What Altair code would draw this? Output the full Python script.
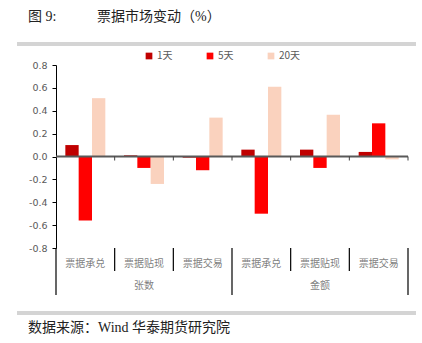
import altair as alt
import pandas as pd

groups = ["张数", "张数", "张数", "金额", "金额", "金额"]
types = ["票据承兑", "票据贴现", "票据交易", "票据承兑", "票据贴现", "票据交易"]
series = ["1天", "5天", "20天"]
v1 = [0.10, 0.01, -0.01, 0.06, 0.06, 0.04]
v5 = [-0.56, -0.10, -0.12, -0.50, -0.10, 0.29]
v20 = [0.51, -0.24, 0.34, 0.61, 0.365, -0.025]
ytick_values = [-0.8, -0.6, -0.4, -0.2, 0, 0.2, 0.4, 0.6, 0.8]
colors = ["#C00000", "#FF0000", "#FAD2BE"]

keys = [f"{g}-{t}" for g, t in zip(groups, types)]
rows = []
for s, vals in zip(series, [v1, v5, v20]):
    for k, v in zip(keys, vals):
        rows.append({"key": k, "series": s, "value": v})
df = pd.DataFrame(rows)
cats = pd.DataFrame({"key": keys, "type": types, "group": groups})
cats["z"] = 0.0
cats["zt"] = -0.035

W, H = 352, 183
FONT = "Noto Sans CJK SC"
SERIF = "Liberation Serif, Noto Sans CJK SC"
xsc = alt.Scale(domain=keys, paddingInner=0, paddingOuter=0)
ysc = alt.Scale(domain=[-0.8, 0.8])
yaxis = alt.Axis(values=ytick_values, format=".1f", grid=False, domainColor="#000000",
                 tickColor="#000000", tickSize=4, labelColor="#595959",
                 labelFont="DejaVu Sans", labelFontSize=9.5, labelPadding=5,
                 labelOverlap=False, title=None,
                 labelExpr="replace(datum.label, '\u2212', '-')")

bars = alt.Chart(df).mark_bar().encode(
    x=alt.X("key:N", sort=keys, scale=xsc, axis=None),
    xOffset=alt.XOffset("series:N", sort=series,
                        scale=alt.Scale(domain=series, paddingInner=0, paddingOuter=0.7)),
    y=alt.Y("value:Q", scale=ysc, axis=yaxis),
    color=alt.Color("series:N", sort=series,
                    scale=alt.Scale(domain=series, range=colors),
                    legend=alt.Legend(title=None, orient="none", direction="horizontal",
                                      legendX=88, legendY=-14, symbolType="square",
                                      symbolSize=45, symbolStrokeWidth=0,
                                      labelFont=FONT, labelFontSize=10,
                                      labelColor="#595959", gridAlign="all",
                                      columnPadding=26, labelOffset=3)),
)

zero = alt.Chart(cats.iloc[:1]).mark_rule(color="#595959", strokeWidth=2).encode(
    y=alt.Y("z:Q", scale=ysc, axis=yaxis), x=alt.value(0), x2=alt.value(W))

tick_mid = alt.Chart(cats.iloc[1:]).mark_rule(color="#404040", strokeWidth=1).encode(
    x=alt.X("key:N", sort=keys, scale=xsc, bandPosition=0, axis=None),
    y=alt.Y("z:Q", scale=ysc, axis=yaxis), y2="zt:Q")
tick_end = alt.Chart(cats.iloc[-1:]).mark_rule(color="#404040", strokeWidth=1).encode(
    x=alt.X("key:N", sort=keys, scale=xsc, bandPosition=1, axis=None),
    y=alt.Y("z:Q", scale=ysc, axis=yaxis), y2="zt:Q")

inner = cats[cats["type"] != "票据承兑"]
sep_inner = alt.Chart(inner).mark_rule(color="#000000", strokeWidth=1.2).encode(
    x=alt.X("key:N", sort=keys, scale=xsc, bandPosition=0, axis=None),
    y=alt.value(H), y2=alt.value(H + 23))
outer = cats[cats["type"] == "票据承兑"]
sep_outer = alt.Chart(outer).mark_rule(color="#000000", strokeWidth=1.2).encode(
    x=alt.X("key:N", sort=keys, scale=xsc, bandPosition=0, axis=None),
    y=alt.value(H), y2=alt.value(H + 47))
sep_end = alt.Chart(cats.iloc[-1:]).mark_rule(color="#000000", strokeWidth=1.2).encode(
    x=alt.X("key:N", sort=keys, scale=xsc, bandPosition=1, axis=None),
    y=alt.value(H), y2=alt.value(H + 47))

cat_labels = alt.Chart(cats).mark_text(font=FONT, fontSize=10, color="#7f7f7f",
                                       baseline="middle").encode(
    x=alt.X("key:N", sort=keys, scale=xsc, axis=None),
    y=alt.value(H + 16), text="type:N")
mid = cats[cats["type"] == "票据贴现"]
grp_labels = alt.Chart(mid).mark_text(font=FONT, fontSize=10, color="#7f7f7f",
                                      baseline="middle").encode(
    x=alt.X("key:N", sort=keys, scale=xsc, axis=None),
    y=alt.value(H + 38), text="group:N")

deco = pd.DataFrame({"a": [0]})
title1 = alt.Chart(deco).mark_text(text="图 9:", font=SERIF, fontSize=14, color="#222222",
                                   align="left", baseline="middle").encode(
    x=alt.value(-28), y=alt.value(-48))
title2 = alt.Chart(deco).mark_text(text="票据市场变动（%）", font=SERIF, fontSize=14,
                                   color="#222222", align="left", baseline="middle").encode(
    x=alt.value(41), y=alt.value(-48))
line_top = alt.Chart(deco).mark_rule(color="#D4D4D4", strokeWidth=4).encode(
    x=alt.value(-39), x2=alt.value(360), y=alt.value(-21))
line_bot = alt.Chart(deco).mark_rule(color="#D4D4D4", strokeWidth=4).encode(
    x=alt.value(-39), x2=alt.value(360), y=alt.value(H + 65))
source = alt.Chart(deco).mark_text(text="数据来源：Wind 华泰期货研究院", font=SERIF,
                                   fontSize=14, color="#222222", align="left",
                                   baseline="middle").encode(
    x=alt.value(-28), y=alt.value(H + 80))

chart = alt.layer(
    bars, zero, tick_mid, tick_end, sep_inner, sep_outer, sep_end,
    cat_labels, grp_labels, title1, title2, line_top, line_bot, source
).properties(
    width=W, height=H,
    autosize=alt.AutoSizeParams(type="none"),
    padding={"left": 56, "top": 65, "right": 14, "bottom": 95},
).configure_view(stroke=None)

chart.save("out.html", embed_options={"renderer": "svg", "actions": False})
